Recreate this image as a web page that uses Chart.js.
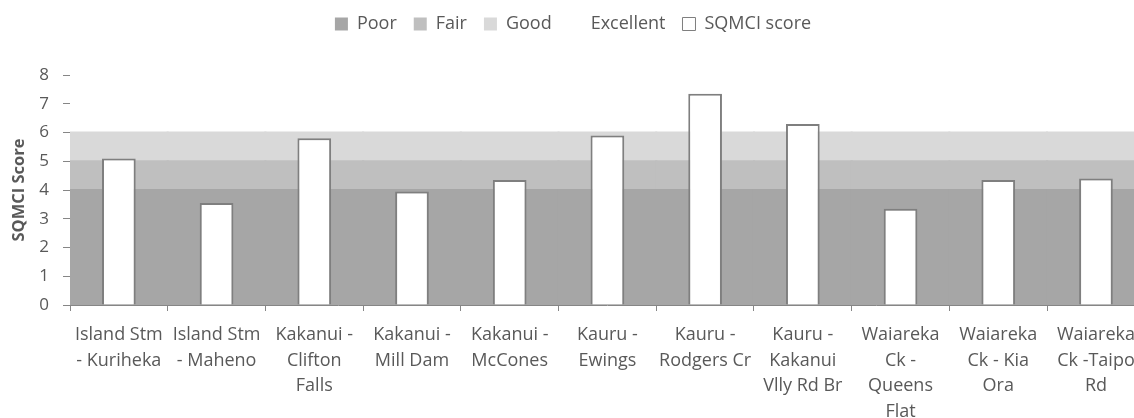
<!DOCTYPE html>
<html><head><meta charset="utf-8">
<script src="https://cdn.jsdelivr.net/npm/chart.js@4"></script>
<style>
html,body{margin:0;padding:0;background:#fff;overflow:hidden}
#wrap{width:1134px;height:418px;overflow:hidden;position:relative}
#c{position:absolute;left:0;top:0}
</style></head><body>
<div id="wrap"><canvas id="c" width="1146" height="424"></canvas></div>
<script>
// ---- data ----
const categories = [
  ["Island Stm","- Kuriheka"],
  ["Island Stm","- Maheno"],
  ["Kakanui -","Clifton","Falls"],
  ["Kakanui -","Mill Dam"],
  ["Kakanui -","McCones"],
  ["Kauru -","Ewings"],
  ["Kauru -","Rodgers Cr"],
  ["Kauru -","Kakanui","Vlly Rd Br"],
  ["Waiareka","Ck -","Queens","Flat"],
  ["Waiareka","Ck - Kia","Ora"],
  ["Waiareka","Ck -Taipo","Rd"]
];
const sqmciScore = [5.1, 3.55, 5.8, 3.95, 4.35, 5.9, 7.35, 6.3, 3.35, 4.35, 4.4];
const poorBand      = [4, 4, 4, 4, 4, 4, 4, 4, 4, 4, 4];
const fairBand      = [1, 1, 1, 1, 1, 1, 1, 1, 1, 1, 1];
const goodBand      = [1, 1, 1, 1, 1, 1, 1, 1, 1, 1, 1];
const excellentBand = [2, 2, 2, 2, 2, 2, 2, 2, 2, 2, 2];
const yTicks = [0, 1, 2, 3, 4, 5, 6, 7, 8];

const FONT = "'Open Sans', sans-serif";
const TXT = '#595959';
const AX = '#868686';

function band(label, data, color) {
  return {label, data, backgroundColor: color, borderWidth: 0, stack: 'bands',
    grouped: false, barPercentage: 1, categoryPercentage: 1, order: 1, inflateAmount: 1};
}

const fixLegend = {
  id: 'fixLegend',
  beforeInit(chart) {
    const fit = chart.legend.fit;
    chart.legend.fit = function () { fit.bind(this)(); this.height = 77; };
  }
};

new Chart(document.getElementById('c'), {
  type: 'bar',
  data: {
    labels: categories,
    datasets: [
      band('Poor', poorBand, '#a6a6a6'),
      band('Fair', fairBand, '#bfbfbf'),
      band('Good', goodBand, '#d9d9d9'),
      band('Excellent', excellentBand, '#ffffff'),
      {label: 'SQMCI score', data: sqmciScore, backgroundColor: '#ffffff', borderColor: '#7f7f7f',
       borderWidth: 2, stack: 'score', grouped: false, barPercentage: 0.345, categoryPercentage: 1, order: 0}
    ]
  },
  options: {
    responsive: false,
    animation: false,
    devicePixelRatio: 1,
    layout: {padding: {top: -2, left: 0, right: 0, bottom: 0}},
    plugins: {
      tooltip: {enabled: false},
      legend: {
        position: 'top',
        labels: {
          color: TXT, font: {family: FONT, size: 18}, boxWidth: 13, boxHeight: 13, padding: 17,
          sort: (a, b) => a.datasetIndex - b.datasetIndex,
          generateLabels(chart) {
            const items = Chart.defaults.plugins.legend.labels.generateLabels(chart);
            items.forEach(it => {
              if (it.text === 'SQMCI score') { it.lineWidth = 1; it.strokeStyle = '#7f7f7f'; }
              else if (it.text === 'Excellent') { it.lineWidth = 0; it.strokeStyle = '#ffffff'; }
              else { it.lineWidth = 0; }
            });
            return items;
          }
        }
      }
    },
    scales: {
      x: {
        offset: true,
        grid: {display: true, offset: true, drawOnChartArea: false, color: AX, tickLength: 6, tickWidth: 1},
        border: {color: AX, width: 1},
        ticks: {color: TXT, font: {family: FONT, size: 18, lineHeight: 1.43}, maxRotation: 0, minRotation: 0,
                autoSkip: false, padding: 11},
        afterFit(s) { s.height = 119; }
      },
      y: {
        stacked: true,
        min: 0, max: 8,
        afterBuildTicks(s) { s.ticks = yTicks.map(v => ({value: v})); },
        grid: {display: true, drawOnChartArea: false, color: AX, tickLength: 7},
        border: {color: AX, width: 1},
        ticks: {color: TXT, font: {family: FONT, size: 17}, padding: 14},
        title: {display: true, text: 'SQMCI Score', color: TXT, font: {family: FONT, size: 16.5, weight: 'bold'},
                padding: {top: 9.6, bottom: 0}},
        afterFit(s) { s.width = 70; }
      }
    }
  },
  plugins: [fixLegend]
});
</script>
</body></html>
